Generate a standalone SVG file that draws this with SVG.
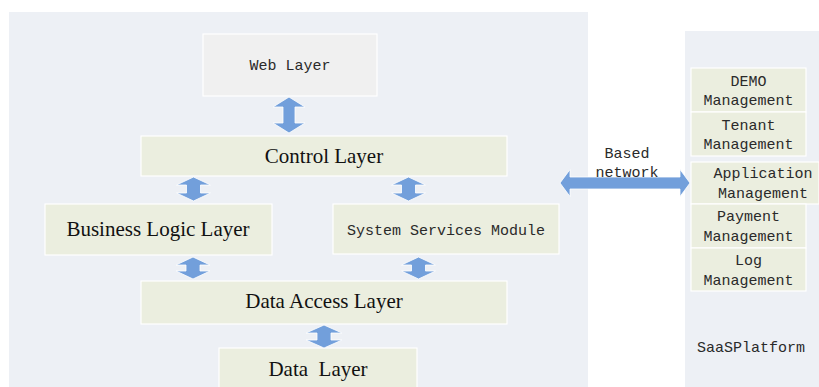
<svg xmlns="http://www.w3.org/2000/svg" width="819" height="387" viewBox="0 0 819 387">
<style>
.panel{fill:#edf0f5}
.box{fill:#ebeedf;stroke:#ffffff;stroke-width:1.2}
.web{fill:#f0f0f0;stroke:#ffffff;stroke-width:1.2}
.arr{fill:#729fdb;stroke:#ffffff;stroke-width:0.8;stroke-linejoin:miter}
.mono{font-family:"Liberation Mono","DejaVu Sans Mono",monospace;font-size:15px;fill:#2a2a2a;text-anchor:middle}
.serif{font-family:"Liberation Serif","Times New Roman",serif;font-size:21px;fill:#111111;text-anchor:middle}
</style>
<rect width="819" height="387" fill="#ffffff"/>
<rect class="panel" x="9" y="12" width="579" height="375"/>
<rect class="panel" x="685" y="31" width="134" height="356"/>

<g id="web-layer">
<rect class="web" x="203" y="34" width="174" height="62"/>
<text class="mono" x="290" y="70">Web Layer</text>
</g>
<g id="control-layer">
<rect class="box" x="141" y="136" width="366" height="40"/>
<text class="serif" x="324" y="163">Control Layer</text>
</g>
<g id="business-logic-layer">
<rect class="box" x="45" y="204" width="227" height="51"/>
<text class="serif" x="158" y="236">Business Logic Layer</text>
</g>
<g id="system-services-module">
<rect class="box" x="333" y="204" width="226" height="50"/>
<text class="mono" x="446" y="235">System Services Module</text>
</g>
<g id="data-access-layer">
<rect class="box" x="141" y="281" width="366" height="43"/>
<text class="serif" x="324" y="308">Data Access Layer</text>
</g>
<g id="data-layer">
<rect class="box" x="219" y="348" width="198" height="45"/>
<text class="serif" x="318" y="376" xml:space="preserve">Data  Layer</text>
</g>

<g id="demo-management">
<rect class="box" x="691" y="68" width="115" height="44"/>
<text class="mono" x="748.5" y="86">DEMO</text>
<text class="mono" x="748.5" y="105">Management</text>
</g>
<g id="tenant-management">
<rect class="box" x="691" y="112" width="115" height="44"/>
<text class="mono" x="748.5" y="130">Tenant</text>
<text class="mono" x="748.5" y="149">Management</text>
</g>
<g id="application-management">
<rect class="box" x="691" y="162" width="128" height="42"/>
<text class="mono" x="763" y="178">Application</text>
<text class="mono" x="763" y="198">Management</text>
</g>
<g id="payment-management">
<rect class="box" x="691" y="204" width="115" height="44"/>
<text class="mono" x="748.5" y="221">Payment</text>
<text class="mono" x="748.5" y="241">Management</text>
</g>
<g id="log-management">
<rect class="box" x="691" y="248" width="115" height="43"/>
<text class="mono" x="748.5" y="265">Log</text>
<text class="mono" x="748.5" y="285">Management</text>
</g>
<g id="saas-platform">
<text class="mono" x="751" y="352">SaaSPlatform</text>
</g>

<g id="connectors">
<path class="arr" d="M289,97 L305,107 L295,107 L295,123 L305,123 L289,133 L273,123 L283,123 L283,107 L273,107 Z"/>
<path class="arr" d="M193.5,177 L210.5,185 L200.5,185 L200.5,193 L210.5,193 L193.5,201 L176.5,193 L186.5,193 L186.5,185 L176.5,185 Z"/>
<path class="arr" d="M408.5,177 L425.5,185 L415.5,185 L415.5,193 L425.5,193 L408.5,201 L391.5,193 L401.5,193 L401.5,185 L391.5,185 Z"/>
<path class="arr" d="M193,257 L210,265 L200,265 L200,271 L210,271 L193,279 L176,271 L186,271 L186,265 L176,265 Z"/>
<path class="arr" d="M418.5,257 L435.5,265 L425.5,265 L425.5,271 L435.5,271 L418.5,279 L401.5,271 L411.5,271 L411.5,265 L401.5,265 Z"/>
<path class="arr" d="M324,325 L342,333 L331,333 L331,340 L342,340 L324,348 L306,340 L317,340 L317,333 L306,333 Z"/>
<path class="arr" d="M560,183 L570,169.5 L570,177 L680,177 L680,169.5 L690,183 L680,196.5 L680,189 L570,189 L570,196.5 Z"/>
<text class="mono" x="627" y="158">Based</text>
<text class="mono" x="627" y="177">network</text>
</g>
</svg>
